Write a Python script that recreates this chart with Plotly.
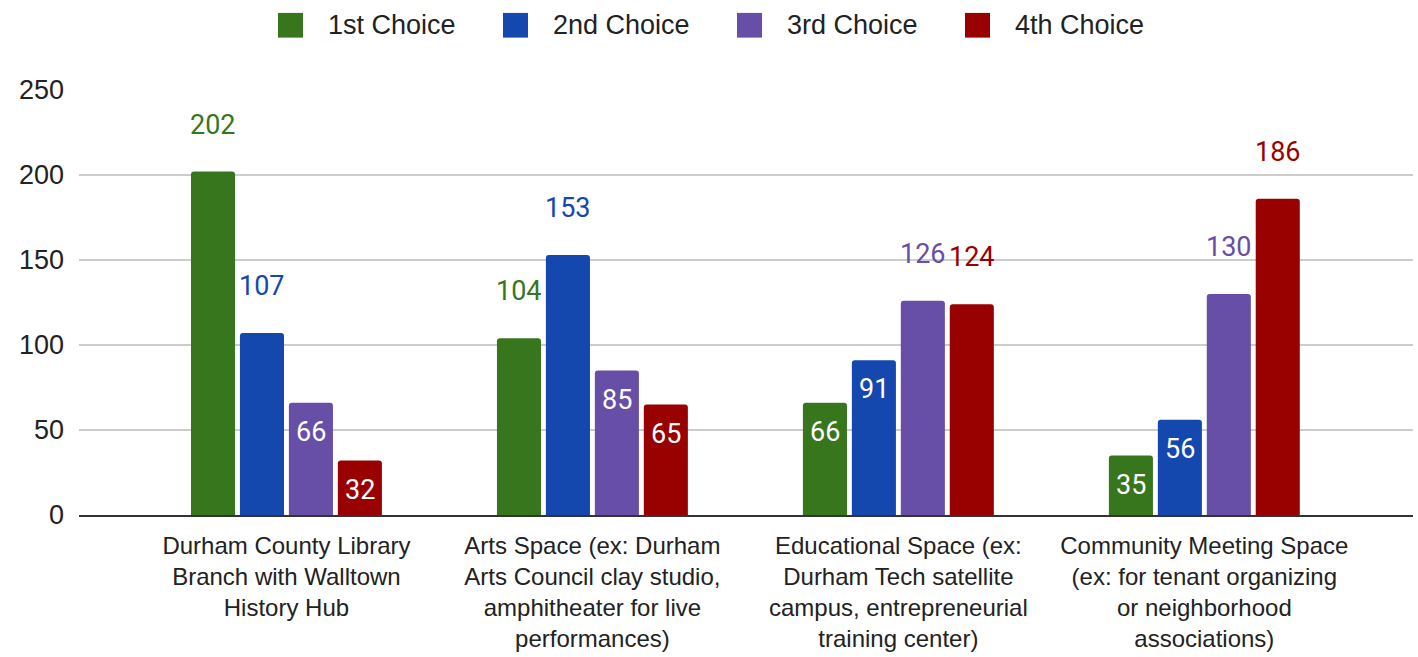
import plotly.graph_objects as go

# Survey results: preferred uses for the site, by ranked choice
categories = [
    "Durham County Library<br>Branch with Walltown<br>History Hub",
    "Arts Space (ex: Durham<br>Arts Council clay studio,<br>amphitheater for live<br>performances)",
    "Educational Space (ex:<br>Durham Tech satellite<br>campus, entrepreneurial<br>training center)",
    "Community Meeting Space<br>(ex: for tenant organizing<br>or neighborhood<br>associations)",
]
series_names = ["1st Choice", "2nd Choice", "3rd Choice", "4th Choice"]
first_choice = [202, 104, 66, 35]
second_choice = [107, 153, 91, 56]
third_choice = [66, 85, 126, 130]
fourth_choice = [32, 65, 124, 186]
y_ticks = [0, 50, 100, 150, 200, 250]

series_values = [first_choice, second_choice, third_choice, fourth_choice]
colors = ["#38761d", "#1448ae", "#674ea7", "#990000"]

# Page geometry (pixels)
W, H = 1418, 657
ML, MR, MT, MB = 79, 5, 90, 137
PW, PH = W - ML - MR, H - MT - MB

def px_to_paper_x(px):
    return (px - ML) / PW

def px_to_paper_y(py):
    return (H - MB - py) / PH

x_idx = list(range(len(categories)))

fig = go.Figure()
for name, vals, col in zip(series_names, series_values, colors):
    fig.add_trace(go.Bar(
        x=x_idx, y=vals, name=name,
        marker=dict(color=col, cornerradius=3, line=dict(width=0)),
        showlegend=False, hoverinfo="y+name",
    ))

bargap, bargroupgap = 0.36, 0.1
unit_px = PW / (3.682 + 0.678)
slot_px = unit_px * (1 - bargap) / len(series_names)

# Value labels: tall bars get the label above, short bars inside near the top
annotations = []
for s, (vals, col) in enumerate(zip(series_values, colors)):
    xs = (s - (len(series_names) - 1) / 2) * slot_px
    for i, v in enumerate(vals):
        outside = v >= 100
        annotations.append(dict(
            x=i, y=v, xref="x", yref="y", text=str(v), showarrow=False,
            xshift=xs, yshift=47 if outside else -29,
            xanchor="center", yanchor="middle",
            font=dict(family="Roboto", size=27, color=col if outside else "#ffffff"),
        ))

# Legend drawn as squares with labels across the top
legend_left_px = [278, 503, 737, 965]
shapes = []
for name, col, lx in zip(series_names, colors, legend_left_px):
    shapes.append(dict(
        type="rect", xref="paper", yref="paper",
        x0=px_to_paper_x(lx), x1=px_to_paper_x(lx + 25),
        y0=px_to_paper_y(37), y1=px_to_paper_y(12),
        fillcolor=col, line=dict(width=0), layer="above",
    ))
    annotations.append(dict(
        x=px_to_paper_x(lx + 48), y=px_to_paper_y(24.5), xref="paper", yref="paper",
        text=name, showarrow=False, xanchor="left", yanchor="middle",
        font=dict(family="Liberation Sans, Arial", size=27, color="#222222"),
    ))

fig.update_layout(
    width=W, height=H,
    margin=dict(l=ML, r=MR, t=MT, b=MB, pad=0),
    paper_bgcolor="#ffffff", plot_bgcolor="#ffffff",
    barmode="group", bargap=bargap, bargroupgap=bargroupgap,
    showlegend=False,
    annotations=annotations, shapes=shapes,
    font=dict(family="Liberation Sans, Arial", color="#222222"),
)
fig.update_xaxes(
    tickmode="array", tickvals=x_idx, ticktext=categories,
    range=[-0.678, 3.682], showgrid=False,
    showline=True, linecolor="#333333", linewidth=2,
    ticks="", tickfont=dict(family="Liberation Sans, Arial", size=24, color="#222222"),
    ticklabelstandoff=8, fixedrange=True,
)
fig.update_yaxes(
    range=[0, 250], tickvals=y_ticks, showgrid=True,
    gridcolor="#cccccc", gridwidth=1.5, zeroline=False,
    ticks="", tickfont=dict(family="Liberation Sans, Arial", size=27, color="#222222"),
    ticklabelstandoff=14, fixedrange=True,
)

fig.write_html("out.html", config={"displayModeBar": False})
